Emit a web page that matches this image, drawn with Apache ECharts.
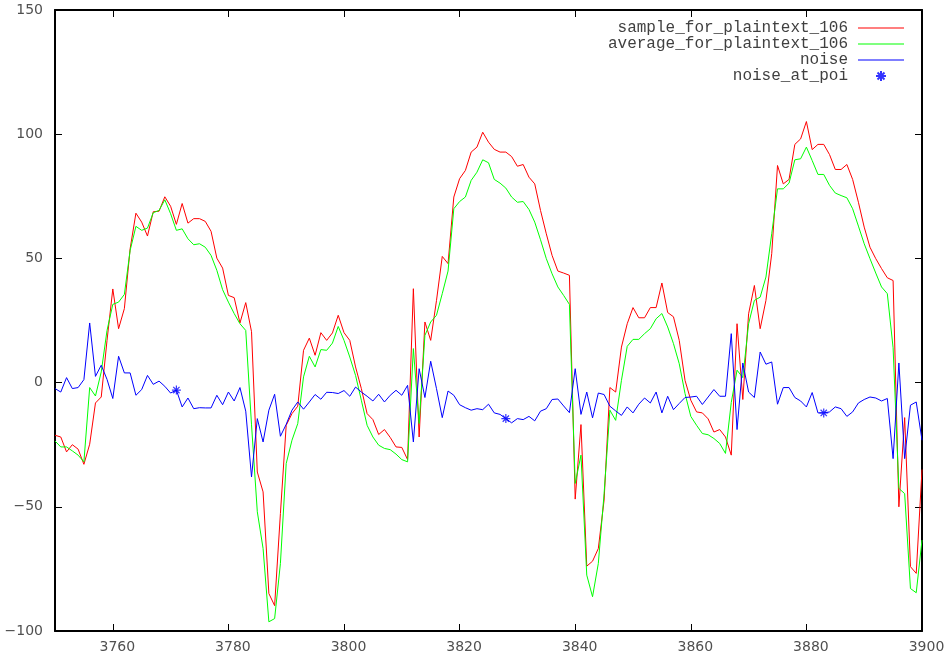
<!DOCTYPE html>
<html>
<head>
<meta charset="utf-8">
<style>
  html, body { margin: 0; padding: 0; background: #fff; }
  #chart { width: 949px; height: 659px; }
</style>
<script src="https://cdn.jsdelivr.net/npm/echarts@6/dist/echarts.min.js"></script>
</head>
<body>
<div id="chart"></div>
<script>
// Trace window: one sample per time index, starting here
const firstIndex = 3750;

// Single trace for plaintext 106 (indices 3750..3900)
const sample = [
  -21.2, -21.9, -27.9, -25, -26.8, -32.9, -24.8, -8.2, -5.8, 17,
  37.7, 21.7, 29.8, 53.9, 68.2, 64.6, 59, 68.8, 69, 74.8,
  71, 63.7, 72.1, 64.2, 66, 66, 64.9, 60.9, 50.1, 46.1,
  35.1, 34.2, 24, 32.2, 20.5, -36, -44, -84.9, -89.8, -52.7,
  -17.2, -12.5, -9.5, 13, 17.9, 11, 20.1, 17, 20, 27.1,
  20.1, 17, 6.3, -2.4, -12.5, -14.9, -20.9, -18.9, -22.1, -25.9,
  -26.1, -31, 37.8, -21.9, 24.4, 17, 33, 50.8, 47.9, 74.7,
  82.1, 85.4, 92.8, 94.8, 100.8, 96.8, 93.9, 92.8, 92.8, 91,
  87.1, 87.8, 82.7, 80, 69.3, 59.9, 51.2, 44.9, 44.1, 43.2,
  -46.9, -16.9, -73.9, -71.9, -66.8, -47.3, -2, -3.8, 14.3, 23.7,
  30.2, 26.1, 26.1, 30.2, 30.2, 40.1, 28.2, 26.5, 17, 0.9,
  -7.1, -11.8, -12.2, -14.6, -19.9, -18.9, -21.9, -29.2, 23.7, -6.8,
  27.7, 39.1, 21.7, 33.1, 51.9, 87.4, 80, 81.8, 95.9, 98.1,
  105.1, 93.8, 95.9, 95.9, 91.8, 85.8, 85.8, 87.8, 81.8, 72.6,
  62.6, 54.5, 49.9, 45.9, 42.2, 41.1, -50, -14.1, -74.1, -76.8,
  -35
];

// Average trace for plaintext 106
const average = [
  -23.5, -25.9, -25.9, -27.5, -29.2, -31.9, -2, -5.4, 4.3, 21,
  31.5, 32.4, 35.5, 53.2, 62.9, 61.3, 62.2, 68.4, 69.3, 73.6,
  68, 61.3, 61.9, 57.9, 55.5, 55.9, 54.5, 51.2, 45.2, 37.4,
  32.4, 27.8, 23.7, 21, -17, -52, -66.8, -96.3, -95, -72.8,
  -32.6, -23.2, -16.5, 2.3, 10.6, 6.3, 13.3, 13, 15.9, 22.6,
  17, 10.3, 2.9, -7.1, -17.2, -21.9, -25.2, -26.5, -27, -28.8,
  -31, -31.9, 13.7, -16.5, 19, 24.4, 27.1, 35.8, 44.9, 70,
  72.9, 74.7, 81.4, 84.7, 89.7, 88.5, 81.8, 80.3, 78.3, 74.7,
  72.6, 72.9, 69.7, 64.6, 57.5, 49.9, 43.8, 38.5, 35.1, 31.5,
  -40.6, -29.2, -77.5, -86.2, -72.8, -44.7, -11.1, -15.2, 0.9, 14.6,
  17.4, 17.4, 19.7, 21.7, 25.7, 27.8, 22.4, 15.7, 7.6, -4.4,
  -13.6, -17.2, -20.5, -21, -22.5, -24.5, -28.5, -8, 5, 2,
  23.7, 33.1, 34.4, 42.5, 59.9, 78, 78, 80.3, 89.7, 90.1,
  94.8, 89.4, 83.8, 83.8, 79.4, 76.3, 75.3, 74.4, 70, 63,
  55.9, 49.9, 44.1, 38.5, 35.8, 14, -42.6, -44.7, -82.9, -84.6,
  -63.4
];

// Noise estimate
const noise = [
  -2.4, -3.8, 2, -2.4, -2, 1.2, 24, 2.5, 7, 1.3,
  -6.4, 10.6, 3.9, 3.9, -5.1, -2.8, 2.9, -0.7, 0.6, -1.5,
  -4.2, -3, -9.8, -6.2, -10.5, -10.1, -10.2, -10.2, -5.1, -8.9,
  -3.8, -7.4, -2, -11.5, -38, -14.5, -23.9, -11.1, -4.7, -21.6,
  -16.8, -11.1, -7.8, -10.7, -7.8, -4.8, -6.7, -3.9, -4, -4.4,
  -3.2, -5.5, -1.8, -3.8, -5.5, -7.4, -4.7, -7.8, -5.1, -3.1,
  -5.1, -1.1, -23.9, 5.6, -6, 8.6, -2.4, -14.1, -3.4, -5.1,
  -8.9, -10.1, -11.1, -10.5, -10.9, -8.7, -12.2, -12.8, -14.5, -16.2,
  -14.5, -14.9, -13.6, -15.4, -11.5, -10.5, -6.8, -6.6, -9.4, -12.1,
  5.6, -12.8, -3.8, -14.2, -4.2, -4.8, -9.5, -11.4, -13.2, -9.8,
  -12.2, -8.7, -6.2, -8.2, -3.8, -12.2, -5.5, -10.9, -8.4, -6,
  -5.8, -5.5, -8.8, -5.8, -2.8, -5.5, -5.5, 19.7, -18.9, 7.9,
  -3.8, -6, 12.3, 7.4, 8.3, -8.7, -2, -2, -6, -7.4,
  -9.8, -4, -12.2, -12.2, -11.8, -9.8, -10.5, -13.6, -11.8, -8.2,
  -6.8, -5.8, -6.2, -7.4, -6.4, -30.6, 7.9, -30.6, -9.1, -7.8,
  -23.2
];

// Points of interest (time indices)
const poiIndex = [3771, 3828, 3883];

// Axis ticks
const xTicks = [3760, 3780, 3800, 3820, 3840, 3860, 3880, 3900];
const yTicks = [-100, -50, 0, 50, 100, 150];

const toPairs = arr => arr.map((v, i) => [firstIndex + i, v]);
const poiPoints = poiIndex.map(t => [t, noise[t - firstIndex]]);

const fmtNum = v => (v < 0 ? '\u2212' + Math.abs(v) : String(v));

// gnuplot-style asterisk marker (plus and cross overlaid)
const asterisk = 'path://M0,5L10,5M5,0L5,10M1.5,1.5L8.5,8.5M8.5,1.5L1.5,8.5';
// thin bar used as a plain line key in the legend
const lineKey = 'path://M0,0L46,0L46,1L0,1Z';

const labelFont = { fontFamily: 'DejaVu Sans', fontSize: 14, color: '#505050' };
const frameLine = { show: true, onZero: false, lineStyle: { color: '#000', width: 2 } };
const innerTick = { show: true, inside: true, length: 7, lineStyle: { color: '#000', width: 1 } };

const chart = echarts.init(document.getElementById('chart'), null, { renderer: 'canvas' });

chart.setOption({
  animation: false,
  backgroundColor: '#fff',
  grid: { left: 55, right: 27, top: 10, bottom: 28, containLabel: false },
  legend: {
    orient: 'vertical',
    align: 'right',
    right: 40,
    top: 15,
    itemWidth: 46,
    itemHeight: 10,
    itemGap: 0,
    textStyle: {
      fontFamily: 'Liberation Mono',
      fontSize: 16,
      lineHeight: 16,
      color: '#404040',
      padding: [0, 5, 0, 0]
    },
    data: [
      { name: 'sample_for_plaintext_106', icon: lineKey },
      { name: 'average_for_plaintext_106', icon: lineKey },
      { name: 'noise', icon: lineKey },
      { name: 'noise_at_poi' }
    ]
  },
  xAxis: [
    {
      type: 'value', position: 'bottom', min: 3750, max: 3900,
      axisLine: frameLine,
      axisTick: Object.assign({}, innerTick, { customValues: xTicks }),
      axisLabel: Object.assign({}, labelFont, {
        customValues: xTicks, margin: 9, padding: [0, 0, 0, 9],
        formatter: fmtNum
      }),
      splitLine: { show: false }
    },
    {
      type: 'value', position: 'top', min: 3750, max: 3900,
      axisLine: frameLine,
      axisTick: Object.assign({}, innerTick, { customValues: xTicks }),
      axisLabel: { show: false },
      splitLine: { show: false }
    }
  ],
  yAxis: [
    {
      type: 'value', position: 'left', min: -100, max: 150, interval: 50,
      axisLine: frameLine,
      axisTick: innerTick,
      axisLabel: Object.assign({}, labelFont, {
        margin: 12, formatter: fmtNum, customValues: yTicks
      }),
      splitLine: { show: false }
    },
    {
      type: 'value', position: 'right', min: -100, max: 150, interval: 50,
      axisLine: frameLine,
      axisTick: innerTick,
      axisLabel: { show: false },
      splitLine: { show: false }
    }
  ],
  series: [
    {
      name: 'sample_for_plaintext_106', type: 'line',
      data: toPairs(sample), symbol: 'none',
      lineStyle: { color: '#ff0000', width: 1 }, itemStyle: { color: '#ff0000' }
    },
    {
      name: 'average_for_plaintext_106', type: 'line',
      data: toPairs(average), symbol: 'none',
      lineStyle: { color: '#00ff00', width: 1 }, itemStyle: { color: '#00ff00' }
    },
    {
      name: 'noise', type: 'line',
      data: toPairs(noise), symbol: 'none',
      lineStyle: { color: '#0000ff', width: 1 }, itemStyle: { color: '#0000ff' }
    },
    {
      name: 'noise_at_poi', type: 'scatter',
      data: poiPoints, symbol: asterisk, symbolSize: 9,
      itemStyle: { color: 'none', borderColor: '#0000ff', borderWidth: 1.2 }
    }
  ]
});
</script>
</body>
</html>
